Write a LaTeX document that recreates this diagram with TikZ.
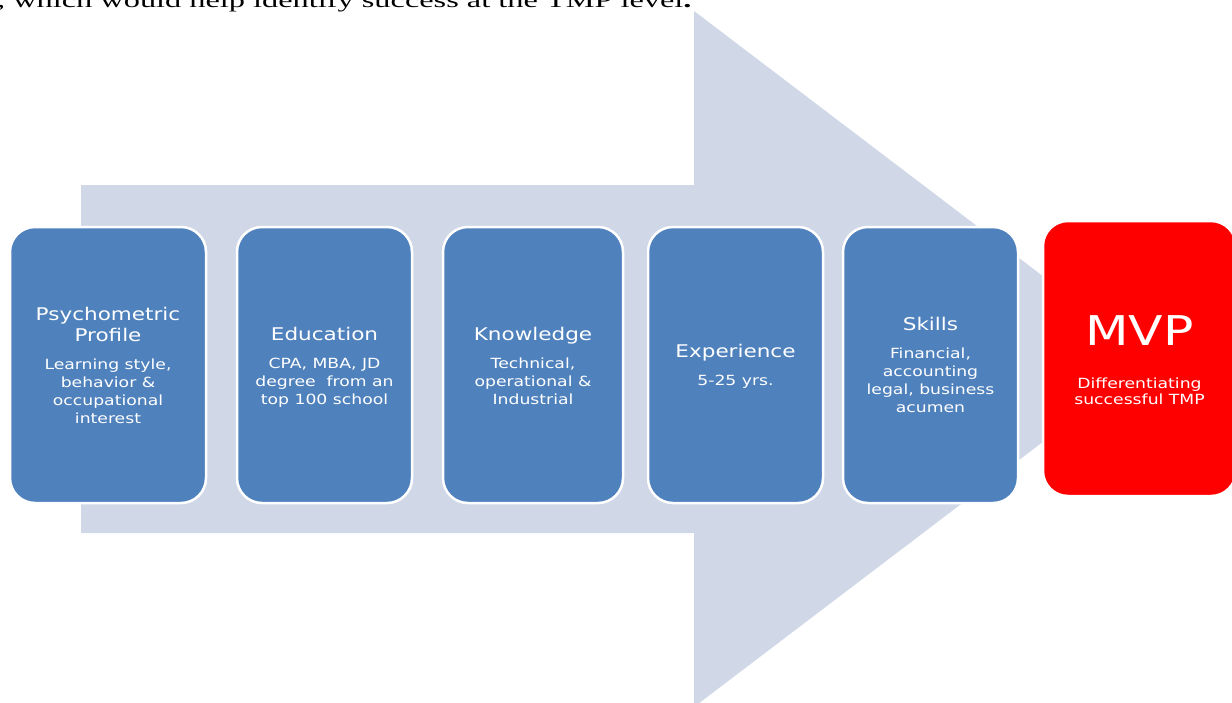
\documentclass[tikz,border=0pt]{standalone}
\usepackage{fontspec}
\newfontfamily\boxfont[FakeStretch=1.23]{DejaVu Sans}
\newfontfamily\topfont[FakeStretch=1.54]{Liberation Serif}
\definecolor{arrowfill}{HTML}{D0D8E8}
\definecolor{boxblue}{HTML}{4F81BD}
\definecolor{mvpred}{HTML}{FF0000}
\tikzset{
  stagebox/.style={rectangle, rounded corners=25pt, fill=boxblue, draw=white,
    line width=2.5pt, inner sep=0pt, minimum height=276pt},
  mvpbox/.style={stagebox, fill=mvpred, minimum height=275pt},
  stagetext/.style={anchor=north, inner sep=0pt, align=center, text=white,
    font=\boxfont\fontsize{14}{18}\selectfont},
}
\newcommand{\ttl}[1]{{\fontsize{17.5}{18}\selectfont #1}}
\begin{document}
\begin{tikzpicture}[x=1pt,y=-1pt]
\useasboundingbox (0,0) rectangle (1232,702);
\begin{scope}
\clip (0,0) rectangle (1232,702);
% top text line (cut off)
\node[anchor=base west, inner sep=0pt, font=\topfont\fontsize{21}{24}\selectfont] (toptext) at (-3,7.3)
  {, which would help identify success at the TMP level{\bfseries .}};
% big background arrow
\fill[arrowfill] (81,185) -- (694,185) -- (694,11) -- (1152,359) -- (694,707)
  -- (694,533) -- (81,533) -- cycle;
% stage boxes
\node[stagebox, minimum width=196pt] (psy) at (108,365) {};
\node[stagebox, minimum width=175pt] (edu) at (324.5,365) {};
\node[stagebox, minimum width=180pt] (know) at (533,365) {};
\node[stagebox, minimum width=175pt] (exp) at (735.5,365) {};
\node[stagebox, minimum width=175pt] (skl) at (930.5,365) {};
\node[mvpbox, minimum width=193pt] (mvp) at (1139.5,358.5) {};
% texts
\node[stagetext] (psyt) at (108,306.7)
  {\ttl{Psychometric}\\[3.7pt]\ttl{Profile}\\[10pt]Learning style,\\behavior \&\\occupational\\interest};
\node[stagetext] (edut) at (324.5,326.7)
  {\ttl{Education}\\[10pt]CPA, MBA, JD\\degree\ \ from an\\top 100 school};
\node[stagetext] (knowt) at (533,326.7)
  {\ttl{Knowledge}\\[10pt]Technical,\\operational \&\\Industrial};
\node[stagetext] (expt) at (735.5,344.4)
  {\ttl{Experience}\\[10pt]5-25 yrs.};
\node[stagetext] (sklt) at (930.5,316.7)
  {\ttl{Skills}\\[10pt]Financial,\\accounting\\legal, business\\acumen};
\node[stagetext] (mvpt) at (1139.5,315.1)
  {{\fontsize{41}{42}\selectfont MVP}\\[25pt]Differentiating\\[-1.5pt]successful TMP};
\end{scope}
\end{tikzpicture}
\end{document}
